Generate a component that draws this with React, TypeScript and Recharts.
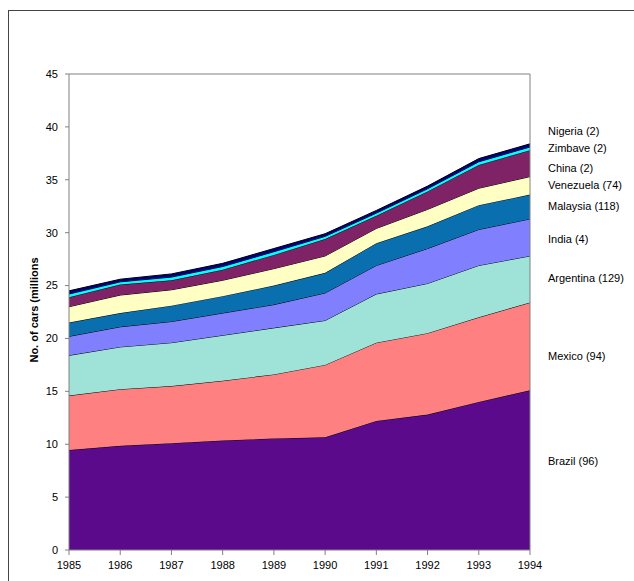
import { AreaChart, Area, XAxis, YAxis, ReferenceLine } from 'recharts'

// car fleet by country, millions of vehicles, stacked bottom to top
const years = ['1985', '1986', '1987', '1988', '1989', '1990', '1991', '1992', '1993', '1994']

const brazil = [9.45, 9.85, 10.1, 10.35, 10.55, 10.65, 12.2, 12.8, 14.0, 15.1]
const mexico = [5.15, 5.35, 5.4, 5.65, 6.05, 6.85, 7.4, 7.7, 8.0, 8.3]
const argentina = [3.8, 4.0, 4.1, 4.3, 4.4, 4.2, 4.6, 4.7, 4.9, 4.4]
const india = [1.8, 1.9, 2.0, 2.1, 2.2, 2.6, 2.7, 3.3, 3.4, 3.5]
const malaysia = [1.3, 1.3, 1.5, 1.6, 1.8, 1.9, 2.1, 2.1, 2.3, 2.3]
const venezuela = [1.5, 1.7, 1.5, 1.5, 1.6, 1.6, 1.4, 1.6, 1.6, 1.7]
const china = [0.9, 1.0, 0.9, 1.0, 1.3, 1.6, 1.2, 1.7, 2.2, 2.5]
const zimbave = [0.3, 0.25, 0.3, 0.3, 0.3, 0.25, 0.25, 0.25, 0.3, 0.3]
const nigeria = [0.3, 0.25, 0.3, 0.3, 0.3, 0.25, 0.25, 0.25, 0.3, 0.3]

const yTicks = [0, 5, 10, 15, 20, 25, 30, 35, 40, 45]

const series = [
  { key: 'Brazil', label: 'Brazil (96)', values: brazil, color: '#5b0a8c' },
  { key: 'Mexico', label: 'Mexico (94)', values: mexico, color: '#ff8080' },
  { key: 'Argentina', label: 'Argentina (129)', values: argentina, color: '#9fe3d8' },
  { key: 'India', label: 'India (4)', values: india, color: '#8080ff' },
  { key: 'Malaysia', label: 'Malaysia (118)', values: malaysia, color: '#0a6fae' },
  { key: 'Venezuela', label: 'Venezuela (74)', values: venezuela, color: '#ffffc4' },
  { key: 'China', label: 'China (2)', values: china, color: '#7f2266' },
  { key: 'Zimbave', label: 'Zimbave (2)', values: zimbave, color: '#00ffff' },
  { key: 'Nigeria', label: 'Nigeria (2)', values: nigeria, color: '#000080' },
]

const data = years.map((year, i) => {
  const row: Record<string, string | number> = { year }
  series.forEach((s) => {
    row[s.key] = s.values[i]
  })
  return row
})

// hand-placed name tags beside the last year
const tagTop: Record<string, number> = {
  Nigeria: 120,
  Zimbave: 137,
  China: 157,
  Venezuela: 174,
  Malaysia: 195,
  India: 228,
  Argentina: 267,
  Mexico: 345,
  Brazil: 450,
}

const font = '"Liberation Sans", Arial, sans-serif'
const axisGrey = '#808080'

export default function App() {
  return (
    <div
      style={{
        position: 'absolute',
        left: 8,
        top: 10,
        width: 626,
        height: 571,
        boxSizing: 'border-box',
        borderTop: '1px solid #444',
        borderLeft: '1px solid #444',
        background: '#fff',
        fontFamily: font,
      }}
    >
      <AreaChart
        width={625}
        height={570}
        data={data}
        margin={{ top: 63, right: 104, left: 20, bottom: 6 }}
        style={{ position: 'absolute', left: 0, top: 0 }}
      >
        <XAxis
          dataKey="year"
          interval={0}
          height={25}
          tickSize={5}
          tickMargin={6}
          tick={{ fill: '#000', fontSize: 11, fontFamily: font }}
          axisLine={{ stroke: axisGrey }}
          tickLine={{ stroke: axisGrey }}
        />
        <YAxis
          domain={[0, 45]}
          ticks={yTicks}
          interval={0}
          width={40}
          tickSize={4}
          tickMargin={7}
          tick={{ fill: '#000', fontSize: 11, fontFamily: font }}
          axisLine={{ stroke: axisGrey }}
          tickLine={{ stroke: axisGrey }}
        />
        {series.map((s) => (
          <Area
            key={s.key}
            dataKey={s.key}
            stackId="cars"
            type="linear"
            fill={s.color}
            fillOpacity={1}
            stroke="#000"
            strokeWidth={1}
            dot={false}
            activeDot={false}
            isAnimationActive={false}
          />
        ))}
        <ReferenceLine y={45} stroke={axisGrey} />
        <ReferenceLine x="1994" stroke={axisGrey} />
      </AreaChart>

      <svg
        width={625}
        height={570}
        style={{ position: 'absolute', left: 0, top: 0, pointerEvents: 'none' }}
      >
        <text
          transform="translate(25 299) rotate(-90)"
          textAnchor="middle"
          dominantBaseline="central"
          fontSize={11}
          fontWeight="bold"
          fontFamily={font}
          fill="#000"
        >
          No. of cars (millions
        </text>
        {series.map((s) => (
          <text
            key={s.key}
            x={539}
            y={tagTop[s.key]}
            dominantBaseline="central"
            fontSize={11}
            fontFamily={font}
            fill="#000"
          >
            {s.label}
          </text>
        ))}
      </svg>
    </div>
  )
}
